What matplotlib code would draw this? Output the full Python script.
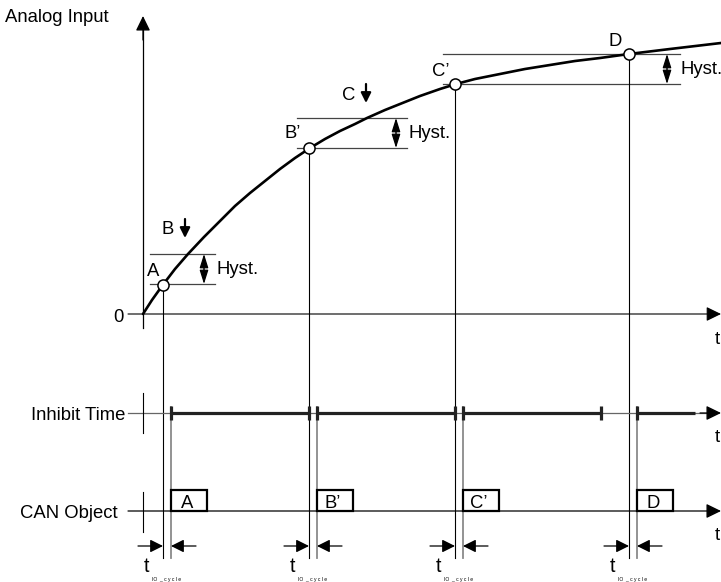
import matplotlib
matplotlib.use("Agg")
import matplotlib.pyplot as plt
from matplotlib.patches import Rectangle

# analog input curve (pixel coords, y grows downward)
curve_x = [143, 152, 162, 175, 188, 204, 220, 235, 250, 265, 280, 295, 310, 325, 340, 355,
           367, 385, 400, 420, 440, 456, 475, 500, 525, 550, 575, 600, 629, 670, 721]
curve_y = [314, 300, 286, 269, 254, 237, 221, 206, 193, 181, 169, 158, 148, 139, 131, 124,
           118, 110, 104, 96, 89, 84, 79, 74, 69, 65, 61, 58, 54, 49, 43]

# transmitted values (circles) and the moment the CAN object goes out
event_labels = ["A", "B\u2019", "C\u2019", "D"]
event_x = [163, 309, 455, 629]
event_y = [285, 148, 84, 54]
send_x = [171, 317, 463, 637]

# hysteresis bands: lower / upper level
hyst_lo = [284, 148, 84]
hyst_hi = [254, 118, 54]

# threshold crossings that are blocked by the inhibit time
cross_labels = ["B", "C"]
cross_x = [185, 366]
cross_y = [238, 103]

# inhibit time bars
inhibit_start = [171, 317, 463, 637]
inhibit_end = [309, 455, 601, 695]

FS = 13.3
plt.rcParams["font.family"] = ["Liberation Sans", "DejaVu Sans"]


def arrow(ax, x0, y0, x1, y1, lw=1.0, style="-|>", hl=0.45, hw=0.22, ms=20, color="black"):
    ax.annotate("", xy=(x1, y1), xytext=(x0, y0),
                arrowprops=dict(arrowstyle=f"{style},head_length={hl},head_width={hw}",
                                lw=lw, color=color, shrinkA=0, shrinkB=0,
                                mutation_scale=ms))


def main():
    fig = plt.figure(figsize=(7.21, 5.82), dpi=100)
    ax = fig.add_axes([0, 0, 1, 1])
    ax.set_xlim(0, 721)
    ax.set_ylim(582, 0)
    ax.axis("off")

    # rows
    y_t = 314
    y_inh = 413
    y_can = 511
    y_cyc = 546

    # axes of the analog diagram
    ax.text(5, 17, "Analog Input", fontsize=FS, ha="left", va="center")
    ax.plot([143, 143], [328, 30], color="black", lw=0.9)
    arrow(ax, 143, 40, 143, 16, lw=0.9)
    arrow(ax, 128, y_t, 721, y_t, lw=0.8)
    ax.text(118, 317, "0", fontsize=FS, ha="center", va="center")
    for yy in [y_t, y_inh, y_can]:
        ax.text(717, yy + 25, "t", fontsize=FS, ha="center", va="center")

    # hysteresis bands
    hyst_x = [(150, 215), (297, 407), (443, 680)]
    hyst_ax = [204, 396, 667]
    hyst_tx = [217, 408, 680]
    for (x0, x1), lo, hi, xa, xt in zip(hyst_x, hyst_lo, hyst_hi, hyst_ax, hyst_tx):
        ax.plot([x0, x1], [lo, lo], color="#444444", lw=0.9)
        ax.plot([x0, x1], [hi, hi], color="#444444", lw=0.9)
        arrow(ax, xa, (lo + hi) / 2, xa, lo, lw=0.9, hl=0.7, hw=0.22, ms=12)
        arrow(ax, xa, (lo + hi) / 2, xa, hi, lw=0.9, hl=0.7, hw=0.22, ms=12)
        ax.text(xt, (lo + hi) / 2 + 1, "Hyst.", fontsize=FS, ha="left", va="center")

    # send lines (grey) and event lines (black)
    for sx in send_x:
        ax.plot([sx, sx], [407, 558], color="#8a8a8a", lw=1.3)
    for ex, ey in zip(event_x, event_y):
        ax.plot([ex, ex], [ey, 558], color="black", lw=0.8)

    # the curve itself
    ax.plot(curve_x, curve_y, color="black", lw=1.9, solid_capstyle="round",
            solid_joinstyle="round")
    ax.plot(event_x, event_y, "o", ms=8, mfc="white", mec="black", mew=1.1, zorder=5)

    label_off = [(-10, -13), (-16, -15), (-14, -12), (-14, -12)]
    for lab, ex, ey, (dx, dy) in zip(event_labels, event_x, event_y, label_off):
        ax.text(ex + dx, ey + dy, lab, fontsize=FS, ha="center", va="center")

    # B / C crossings
    for lab, cx, cy in zip(cross_labels, cross_x, cross_y):
        arrow(ax, cx, cy - 19, cx, cy, lw=1.6, hl=0.5, hw=0.25, ms=12)
        ax.text(cx - 17, cy - 8, lab, fontsize=FS, ha="center", va="center")

    # inhibit time row
    ax.text(125, y_inh + 2, "Inhibit Time", fontsize=FS, ha="right", va="center")
    ax.plot([128, 712], [y_inh, y_inh], color="#666666", lw=0.9)
    arrow(ax, 700, y_inh, 721, y_inh, lw=0.9)
    ax.plot([143, 143], [393, 433], color="black", lw=0.8)
    for s, e in zip(inhibit_start, inhibit_end):
        ax.plot([s, e], [y_inh, y_inh], color="#222222", lw=2.3, solid_capstyle="butt")
        ax.plot([s, s], [406, 420], color="#222222", lw=2.3, solid_capstyle="butt")
    for e in inhibit_end[:-1]:
        ax.plot([e, e], [406, 420], color="#222222", lw=2.3, solid_capstyle="butt")

    # CAN object row
    ax.text(118, y_can + 3, "CAN Object", fontsize=FS, ha="right", va="center")
    arrow(ax, 128, y_can, 721, y_can, lw=0.9)
    ax.plot([143, 143], [492, 532], color="black", lw=0.8)
    for lab, sx in zip(event_labels, send_x):
        ax.add_patch(Rectangle((sx, 490), 36, 21, fill=True, fc="white",
                               ec="black", lw=1.6, zorder=4))
        ax.text(sx + 16, 504, lab, fontsize=FS, ha="center", va="center", zorder=5)

    # IO cycle delays
    for ex, sx in zip(event_x, send_x):
        arrow(ax, ex - 25, y_cyc, ex, y_cyc, lw=0.9, hl=0.6, hw=0.3, ms=13)
        arrow(ax, sx + 25, y_cyc, sx, y_cyc, lw=0.9, hl=0.6, hw=0.3, ms=13)
        ax.text(ex - 16, 567, "t", fontsize=FS + 1, ha="center", va="center")
        ax.text(ex - 11, 579, "IO  _ c y c l e", fontsize=3.6, ha="left", va="center")

    fig.savefig("out.png", dpi=100)


if __name__ == "__main__":
    main()
